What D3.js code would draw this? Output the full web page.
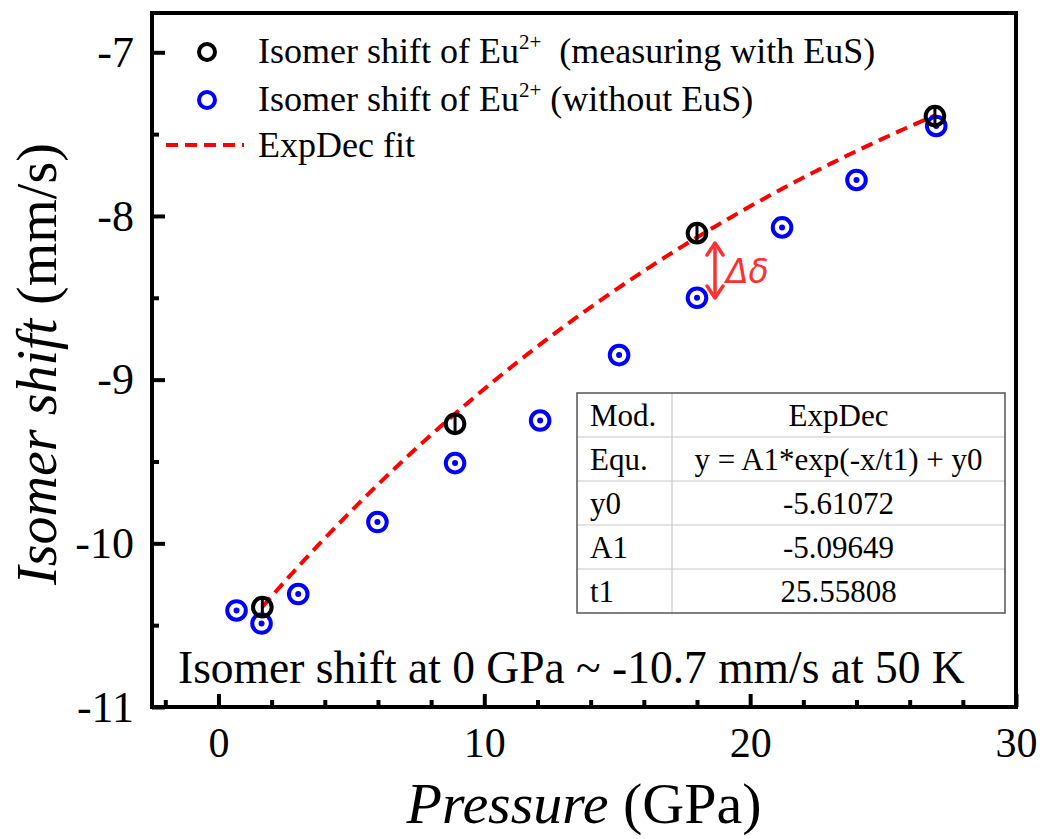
<!DOCTYPE html>
<meta charset="utf-8">
<script src="https://d3js.org/d3.v7.min.js"></script>
<style>
  body { margin: 0; background: #fff; }
  text { font-family: "Liberation Serif", "Times New Roman", serif; }
</style>
<div id="chart"></div>
<script>

var withEuS_P   = [1.65, 8.9, 18.0, 26.95];
var withEuS_IS  = [-10.39, -9.27, -8.105, -7.39];

var noEuS_P  = [0.68, 1.62, 3.0, 5.98, 8.9, 12.1, 15.07, 18.0, 21.2, 24.0, 27.0];
var noEuS_IS = [-10.41, -10.49, -10.31, -9.87, -9.51, -9.25, -8.85, -8.50, -8.07, -7.78, -7.45];

// fit parameters (ExpDec)
var fitY0 = -5.61072, fitA1 = -5.09649, fitT1 = 25.55808;
var fitRange = [1.65, 27.0];

var xMajor = [0, 10, 20, 30];
var yMajor = [-11, -10, -9, -8, -7];

var tableRows = [
  ["Mod.", "ExpDec"],
  ["Equ.", "y = A1*exp(-x/t1) + y0"],
  ["y0", "-5.61072"],
  ["A1", "-5.09649"],
  ["t1", "25.55808"]
];

var W = 1043, H = 839;
var pLeft = 152, pRight = 1016, pTop = 13, pBottom = 707;

var svg = d3.select("#chart").append("svg")
  .attr("width", W).attr("height", H);

var x = d3.scaleLinear().domain([-2.5, 30]).range([pLeft, pRight]);
var y = d3.scaleLinear().domain([-11, -6.76]).range([pBottom, pTop]);

// frame
svg.append("rect")
  .attr("x", pLeft).attr("y", pTop)
  .attr("width", pRight - pLeft).attr("height", pBottom - pTop)
  .attr("fill", "none").attr("stroke", "#000").attr("stroke-width", 4);

// minor ticks
var xMinor = d3.range(-2, 30.01, 2).filter(function(d) { return d % 10 !== 0; });
svg.append("g")
  .attr("transform", "translate(0," + pBottom + ")")
  .call(d3.axisBottom(x).tickValues(xMinor).tickSize(-7).tickFormat(""))
  .call(function(g) { g.select(".domain").remove(); })
  .selectAll("line").attr("stroke-width", 4);

var yMinor = d3.range(-10.5, -6.9, 1);
svg.append("g")
  .attr("transform", "translate(" + pLeft + ",0)")
  .call(d3.axisLeft(y).tickValues(yMinor).tickSize(-7).tickFormat(""))
  .call(function(g) { g.select(".domain").remove(); })
  .selectAll("line").attr("stroke-width", 4);

// major ticks + labels (plain hyphen for minus, like the original)
var gx = svg.append("g")
  .attr("transform", "translate(0," + pBottom + ")")
  .call(d3.axisBottom(x).tickValues(xMajor).tickSize(-13).tickPadding(20)
    .tickFormat(function(d) { return String(d); }));
gx.select(".domain").remove();
gx.selectAll("line").attr("stroke-width", 4);
gx.selectAll("text").attr("font-size", 42).attr("fill", "#000")
  .style("font-family", "'Liberation Serif', serif");

var gy = svg.append("g")
  .attr("transform", "translate(" + pLeft + ",0)")
  .call(d3.axisLeft(y).tickValues(yMajor).tickSize(-13).tickPadding(18)
    .tickFormat(function(d) { return String(d); }));
gy.select(".domain").remove();
gy.selectAll("line").attr("stroke-width", 4);
gy.selectAll("text").attr("font-size", 44).attr("fill", "#000")
  .style("font-family", "'Liberation Serif', serif");

// axis titles
var xt = svg.append("text")
  .attr("x", 584).attr("y", 823)
  .attr("text-anchor", "middle").attr("font-size", 58);
xt.append("tspan").attr("font-style", "italic").text("Pressure");
xt.append("tspan").text(" (GPa)");

var yt = svg.append("text")
  .attr("transform", "translate(56,364) rotate(-90)")
  .attr("text-anchor", "middle").attr("font-size", 56);
yt.append("tspan").attr("font-style", "italic").text("Isomer shift");
yt.append("tspan").text(" (mm/s)");

// fit curve
var fitData = d3.range(fitRange[0], fitRange[1] + 0.001, 0.1).map(function(p) {
  return [p, fitA1 * Math.exp(-p / fitT1) + fitY0];
});
svg.append("path")
  .datum(fitData)
  .attr("d", d3.line().x(function(d) { return x(d[0]); }).y(function(d) { return y(d[1]); }))
  .attr("fill", "none").attr("stroke", "#ff0000")
  .attr("stroke-width", 4).attr("stroke-dasharray", "12,7");

// blue points (without EuS)
var blue = noEuS_P.map(function(p, i) { return [p, noEuS_IS[i]]; });
svg.selectAll(".blue").data(blue).enter().append("circle")
  .attr("cx", function(d) { return x(d[0]); })
  .attr("cy", function(d) { return y(d[1]); })
  .attr("r", 9.3).attr("fill", "none").attr("stroke", "#0000ff").attr("stroke-width", 4);
svg.selectAll(".bdot").data(blue).enter().append("circle")
  .attr("cx", function(d) { return x(d[0]); })
  .attr("cy", function(d) { return y(d[1]); })
  .attr("r", 3).attr("fill", "#0000ff");

// black points (with EuS) + error bars
var black = withEuS_P.map(function(p, i) { return [p, withEuS_IS[i]]; });
svg.selectAll(".black").data(black).enter().append("circle")
  .attr("cx", function(d) { return x(d[0]); })
  .attr("cy", function(d) { return y(d[1]); })
  .attr("r", 9.3).attr("fill", "none").attr("stroke", "#000").attr("stroke-width", 4);
svg.selectAll(".err").data(black).enter().append("line")
  .attr("x1", function(d) { return x(d[0]); })
  .attr("x2", function(d) { return x(d[0]); })
  .attr("y1", function(d) { return y(d[1]) - 8; })
  .attr("y2", function(d) { return y(d[1]) + 8; })
  .attr("stroke", "#000").attr("stroke-width", 3);

// Δδ arrow
var arrowX = 715, arrowY1 = 243, arrowY2 = 298;
var arrow = svg.append("g").attr("stroke", "#ff3030").attr("fill", "#ff3030");
arrow.append("line").attr("x1", arrowX).attr("x2", arrowX)
  .attr("y1", arrowY1 + 4).attr("y2", arrowY2 - 4).attr("stroke-width", 3.5);
arrow.append("path").attr("stroke-width", 3.5).attr("fill", "none")
  .attr("stroke-linejoin", "round").attr("stroke-linecap", "round")
  .attr("d", "M" + (arrowX - 8) + "," + (arrowY1 + 12) + "L" + arrowX + "," + arrowY1 + "L" + (arrowX + 8) + "," + (arrowY1 + 12));
arrow.append("path").attr("stroke-width", 3.5).attr("fill", "none")
  .attr("stroke-linejoin", "round").attr("stroke-linecap", "round")
  .attr("d", "M" + (arrowX - 8) + "," + (arrowY2 - 12) + "L" + arrowX + "," + arrowY2 + "L" + (arrowX + 8) + "," + (arrowY2 - 12));
svg.append("text").attr("x", 726).attr("y", 283)
  .style("font-family", "'DejaVu Sans', sans-serif")
  .attr("font-style", "italic").attr("font-size", 33).attr("fill", "#ff3030")
  .text("Δδ");

// legend
var legFont = 36;
svg.append("circle").attr("cx", 207).attr("cy", 52).attr("r", 8)
  .attr("fill", "none").attr("stroke", "#000").attr("stroke-width", 4);
svg.append("circle").attr("cx", 207).attr("cy", 100).attr("r", 8)
  .attr("fill", "none").attr("stroke", "#0000ff").attr("stroke-width", 4);
svg.append("line").attr("x1", 166).attr("x2", 244).attr("y1", 145).attr("y2", 145)
  .attr("stroke", "#ff0000").attr("stroke-width", 4).attr("stroke-dasharray", "12,7");

var l1 = svg.append("text").attr("x", 258).attr("y", 63).attr("font-size", legFont)
  .style("white-space", "pre");
l1.append("tspan").text("Isomer shift of Eu");
l1.append("tspan").attr("font-size", 21).attr("dy", -14).text("2+");
l1.append("tspan").attr("dy", 14).text("  (measuring with EuS)");

var l2 = svg.append("text").attr("x", 258).attr("y", 111).attr("font-size", legFont);
l2.append("tspan").text("Isomer shift of Eu");
l2.append("tspan").attr("font-size", 21).attr("dy", -14).text("2+");
l2.append("tspan").attr("dy", 14).text(" (without EuS)");

svg.append("text").attr("x", 258).attr("y", 157).attr("font-size", legFont).text("ExpDec fit");

// parameter table
var tx = 577, ty = 393, tw = 428, rowH = 44, col1 = 95;
var tbl = svg.append("g");
tbl.append("rect").attr("x", tx).attr("y", ty).attr("width", tw).attr("height", rowH * tableRows.length)
  .attr("fill", "#fff").attr("stroke", "none");
tableRows.forEach(function(r, i) {
  if (i > 0) {
    tbl.append("line").attr("x1", tx).attr("x2", tx + tw)
      .attr("y1", ty + i * rowH).attr("y2", ty + i * rowH)
      .attr("stroke", "#c8c8c8").attr("stroke-width", 1.2);
  }
  tbl.append("text").attr("x", tx + 13).attr("y", ty + i * rowH + 33)
    .attr("font-size", 31).text(r[0]);
  tbl.append("text").attr("x", tx + col1 + (tw - col1) / 2).attr("y", ty + i * rowH + 33)
    .attr("text-anchor", "middle").attr("font-size", 31).text(r[1]);
});
tbl.append("line").attr("x1", tx + col1).attr("x2", tx + col1)
  .attr("y1", ty).attr("y2", ty + rowH * tableRows.length)
  .attr("stroke", "#c8c8c8").attr("stroke-width", 1.2);
tbl.append("rect").attr("x", tx).attr("y", ty).attr("width", tw).attr("height", rowH * tableRows.length)
  .attr("fill", "none").attr("stroke", "#555").attr("stroke-width", 1.5);

// note at bottom
svg.append("text").attr("x", 178).attr("y", 683).attr("font-size", 45.5)
  .text("Isomer shift at 0 GPa ~ -10.7 mm/s at 50 K");

</script>
